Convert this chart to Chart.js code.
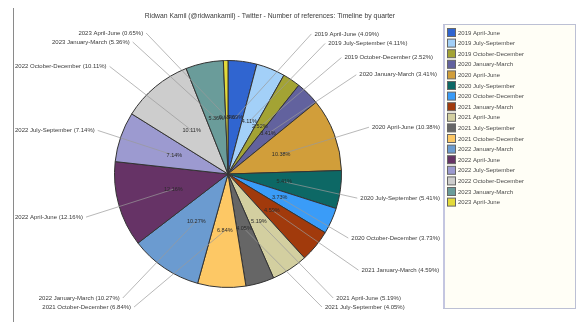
<!DOCTYPE html>
<html>
<head>
<meta charset="utf-8">
<script src="https://cdn.jsdelivr.net/npm/chart.js@4/dist/chart.umd.min.js"></script>
<style>
  html, body { margin: 0; padding: 0; background: #fff; }
  #wrap { width: 579px; height: 322px; }
</style>
</head>
<body>
<div id="wrap"><canvas id="pie" width="579" height="322"></canvas></div>
<script>
const TITLE = 'Ridwan Kamil (@ridwankamil) - Twitter - Number of references: Timeline by quarter';

const quarters = [
    '2019 April-June', '2019 July-September', '2019 October-December',
    '2020 January-March', '2020 April-June', '2020 July-September', '2020 October-December',
    '2021 January-March', '2021 April-June', '2021 July-September', '2021 October-December',
    '2022 January-March', '2022 April-June', '2022 July-September', '2022 October-December',
    '2023 January-March', '2023 April-June'
];

// share of references per quarter, in percent
const shares = [4.09, 4.11, 2.52, 3.41, 10.38, 5.41, 3.73, 4.59, 5.19, 4.05, 6.84, 10.27, 12.16, 7.14, 10.11, 5.36, 0.65];

const sliceColors = [
    '#3065d0', '#a3d0f8', '#a3a334', '#62629e', '#d19e3a', '#0d6865',
    '#3a9cf8', '#a13a0c', '#d3cfa0', '#666666', '#fdc865', '#6b9bd0',
    '#663366', '#9c9ad0', '#cdcdcd', '#6a9c9a', '#e3da3a'
];

const FONT = '"Liberation Sans", Arial, sans-serif';
const fmt = v => v.toFixed(2) + '%';

// title, frame, legend box, inside percentages and outside labels with leader lines
const decorations = {
    id: 'decorations',
    beforeDraw(chart) {
        const ctx = chart.ctx;
        ctx.save();
        ctx.strokeStyle = '#8a8a8a';
        ctx.lineWidth = 1;
        ctx.beginPath();
        ctx.moveTo(13.5, 8);
        ctx.lineTo(13.5, 322);
        ctx.stroke();

        ctx.fillStyle = '#3a3a3a';
        ctx.font = '6.8px ' + FONT;
        ctx.textAlign = 'center';
        ctx.textBaseline = 'middle';
        ctx.fillText(TITLE, 270, 16);

        // legend
        ctx.fillStyle = '#fffef6';
        ctx.fillRect(443, 24, 133, 285);
        ctx.strokeStyle = '#bcc0d4';
        ctx.strokeRect(443.5, 24.5, 132, 284);
        ctx.strokeStyle = '#c4c6e0';
        ctx.lineWidth = 2;
        ctx.beginPath();
        ctx.moveTo(444, 25);
        ctx.lineTo(444, 308);
        ctx.stroke();
        ctx.lineWidth = 1;
        ctx.font = '6px ' + FONT;
        ctx.textAlign = 'left';
        quarters.forEach((q, i) => {
            const y = 33 + i * 10.6;
            ctx.fillStyle = sliceColors[i];
            ctx.fillRect(447.5, y - 4.5, 8, 8);
            ctx.strokeStyle = '#666';
            ctx.strokeRect(447.5, y - 4.5, 8, 8);
            ctx.fillStyle = '#4a4a4a';
            ctx.fillText(q, 458, y);
        });
        ctx.restore();
    },
    afterDatasetsDraw(chart) {
        const ctx = chart.ctx;
        const arcs = chart.getDatasetMeta(0).data;
        const cx = arcs[0].x, cy = arcs[0].y, r = arcs[0].outerRadius;
        const Ry = r * 1.28, Rx = r * 1.45, gap = 9, top = 33, bottom = 307;
        const plotLeft = 15, plotRight = 440;

        ctx.save();
        ctx.font = '6px ' + FONT;
        const items = arcs.map((a, i) => {
            const mid = (a.startAngle + a.endAngle) / 2;
            const text = quarters[i] + ' (' + fmt(shares[i]) + ')';
            return {
                i, mid, text,
                w: ctx.measureText(text).width,
                right: Math.cos(mid) >= 0,
                y: cy + 4 + Ry * Math.sin(mid),
                ix: cx + r * 0.5 * Math.cos(mid),
                iy: cy + r * 0.5 * Math.sin(mid)
            };
        });

        // spread labels on each side so they do not overlap
        [true, false].forEach(side => {
            const list = items.filter(it => it.right === side).sort((a, b) => a.y - b.y);
            let prev = -Infinity;
            list.forEach(it => { it.y = Math.max(it.y, prev + gap, top); prev = it.y; });
            let next = Infinity;
            for (let k = list.length - 1; k >= 0; k--) {
                list[k].y = Math.min(list[k].y, next - gap, bottom);
                next = list[k].y;
            }
        });

        // leader lines
        ctx.strokeStyle = '#9a9a9a';
        ctx.lineWidth = 0.7;
        items.forEach(it => {
            const dy = it.y - cy;
            const dx = Math.sqrt(Math.max(Rx * Rx - dy * dy, 0));
            if (it.right) {
                it.tx = Math.min(cx + dx, plotRight - it.w);
                it.ex = it.tx - 3;
            } else {
                it.tx = Math.max(cx - dx, plotLeft + it.w);
                it.ex = it.tx + 3;
            }
            ctx.beginPath();
            ctx.moveTo(it.ix, it.iy);
            ctx.lineTo(it.ex, it.y);
            ctx.stroke();
        });

        // outside labels
        ctx.fillStyle = '#3a3a3a';
        ctx.textBaseline = 'middle';
        items.forEach(it => {
            ctx.textAlign = it.right ? 'left' : 'right';
            ctx.fillText(it.text, it.tx, it.y);
        });

        // inside percentages
        ctx.font = '5.5px ' + FONT;
        ctx.textAlign = 'center';
        ctx.fillStyle = '#2a2a2a';
        items.forEach(it => ctx.fillText(fmt(shares[it.i]), it.ix, it.iy));
        ctx.restore();
    }
};

new Chart(document.getElementById('pie'), {
    type: 'pie',
    data: {
        labels: quarters,
        datasets: [{
            data: shares,
            backgroundColor: sliceColors,
            borderColor: '#333',
            borderWidth: 1
        }]
    },
    options: {
        responsive: false,
        animation: false,
        devicePixelRatio: 1,
        layout: { padding: { left: 114, top: 60, right: 237, bottom: 34 } },
        plugins: {
            legend: { display: false },
            tooltip: { enabled: false }
        }
    },
    plugins: [decorations]
});
</script>
</body>
</html>
